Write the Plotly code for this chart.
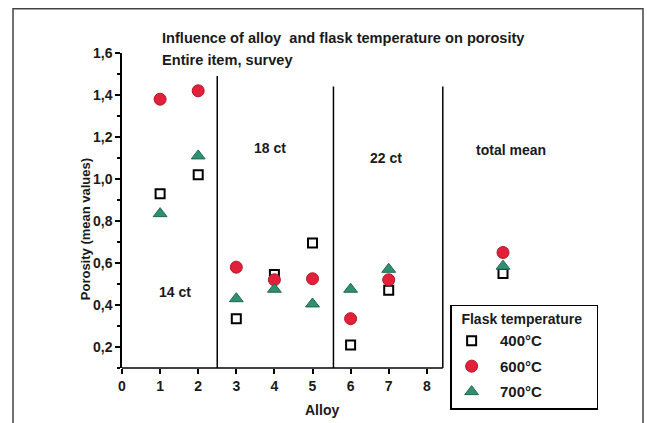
import plotly.graph_objects as go

# ---- data ----
alloys = [1, 2, 3, 4, 5, 6, 7, 10]          # 10 = "total mean" column
por_400 = [0.93, 1.02, 0.335, 0.545, 0.695, 0.21, 0.47, 0.55]
por_600 = [1.38, 1.42, 0.58, 0.52, 0.525, 0.335, 0.52, 0.65]
por_700 = [0.835, 1.11, 0.43, 0.475, 0.405, 0.475, 0.57, 0.585]
series_names = ["400°C", "600°C", "700°C"]
y_ticks = [0.2, 0.4, 0.6, 0.8, 1.0, 1.2, 1.4, 1.6]
x_ticks = [0, 1, 2, 3, 4, 5, 6, 7, 8]
group_bounds = [2.5, 5.55, 8.42]
group_tops = [1.49, 1.44, 1.44]
group_labels = ["14 ct", "18 ct", "22 ct", "total mean"]
group_label_pos = [(1.38, 0.46), (3.88, 1.15), (6.94, 1.10), (10.22, 1.14)]

FONT = "Liberation Sans"
INK = "#1a1a1a"
NB = "\u00a0"


def bold(s):
    return "<b>" + s + "</b>"


fig = go.Figure()
fig.add_trace(go.Scatter(
    x=alloys, y=por_400, mode="markers", name=bold(NB * 2 + series_names[0]), legendgroup="a",
    marker=dict(symbol="square-open", size=9, color="black", line=dict(width=2, color="black")),
    cliponaxis=False))
fig.add_trace(go.Scatter(
    x=alloys, y=por_600, mode="markers", name=bold(NB * 2 + series_names[1]), legendgroup="b",
    marker=dict(symbol="circle", size=12, color="#e2203a", line=dict(width=1, color="#b01828")),
    cliponaxis=False))
fig.add_trace(go.Scatter(
    x=alloys, y=por_700, mode="markers", name=bold(NB * 2 + series_names[2]), legendgroup="c",
    marker=dict(symbol="triangle-up", size=12, color="#2f8f70", line=dict(width=1, color="#1f6a50")),
    cliponaxis=False))

x_max = 525 / 38.1

shapes = []
# outer frame
shapes.append(dict(type="rect", xref="paper", yref="paper",
                   x0=-0.2076, x1=0.9924, y0=-0.25, y1=1.1406,
                   line=dict(color="#444", width=1.5), fillcolor="rgba(0,0,0,0)", layer="below"))
# x axis line (ends at last divider)
shapes.append(dict(type="line", xref="x", yref="paper", x0=0, x1=group_bounds[-1], y0=0, y1=0,
                   line=dict(color="black", width=1.5)))
# group dividers
for gx, gt in zip(group_bounds, group_tops):
    shapes.append(dict(type="line", xref="x", yref="y", x0=gx, x1=gx, y0=0.1, y1=gt,
                       line=dict(color="black", width=1.5)))

annotations = []
for lab, (lx, ly) in zip(group_labels, group_label_pos):
    annotations.append(dict(text=bold(lab), x=lx, y=ly, xref="x", yref="y", showarrow=False,
                            font=dict(family=FONT, size=14, color=INK)))
annotations.append(dict(text=bold("Influence of alloy  and flask temperature on porosity"),
                        x=0.0724, y=1.0486, xref="paper", yref="paper", xanchor="left",
                        yanchor="middle", showarrow=False,
                        font=dict(family=FONT, size=14.6, color=INK)))
annotations.append(dict(text=bold("Entire item, survey"),
                        x=0.0724, y=0.9788, xref="paper", yref="paper", xanchor="left",
                        yanchor="middle", showarrow=False,
                        font=dict(family=FONT, size=14.6, color=INK)))
annotations.append(dict(text=bold("Porosity (mean values)"), textangle=-90,
                        x=-0.0876, y=0.439, xref="paper", yref="paper", showarrow=False,
                        font=dict(family=FONT, size=13, color=INK)))
annotations.append(dict(text=bold("Alloy"), x=0.381, y=-0.1324, xref="paper", yref="paper",
                        yanchor="middle", showarrow=False,
                        font=dict(family=FONT, size=14, color=INK)))

fig.update_layout(
    width=647, height=423,
    margin=dict(l=122, r=0, t=53, b=55),
    paper_bgcolor="white", plot_bgcolor="white",
    separators=",.",
    font=dict(family=FONT, size=14, color=INK),
    showlegend=True,
    legend=dict(x=0.625, y=0.201, xanchor="left", yanchor="top",
                bordercolor="black", borderwidth=1.5, bgcolor="white",
                title=dict(text=bold(NB * 2 + "Flask temperature" + NB * 3),
                           font=dict(family=FONT, size=14, color=INK)),
                font=dict(family=FONT, size=15, color=INK),
                tracegroupgap=3),
    xaxis=dict(range=[0, x_max], tickvals=x_ticks, ticktext=[bold(str(v)) for v in x_ticks],
               ticks="outside", ticklen=5, tickwidth=1.5,
               tickcolor="black", showline=False, showgrid=False, zeroline=False,
               tickfont=dict(family=FONT, size=14, color=INK)),
    yaxis=dict(range=[0.1, 1.6], tickvals=y_ticks,
               ticktext=[bold(f"{v:.1f}".replace(".", ",")) for v in y_ticks],
               ticks="outside", ticklen=5,
               tickwidth=1.5, tickcolor="black", showline=True, linecolor="black", linewidth=1.5,
               showgrid=False, zeroline=False,
               minor=dict(dtick=0.1, tick0=0.1, ticks="outside", ticklen=3, tickcolor="black"),
               tickfont=dict(family=FONT, size=14, color=INK)),
    shapes=shapes, annotations=annotations,
)

fig.write_html("out.html")
